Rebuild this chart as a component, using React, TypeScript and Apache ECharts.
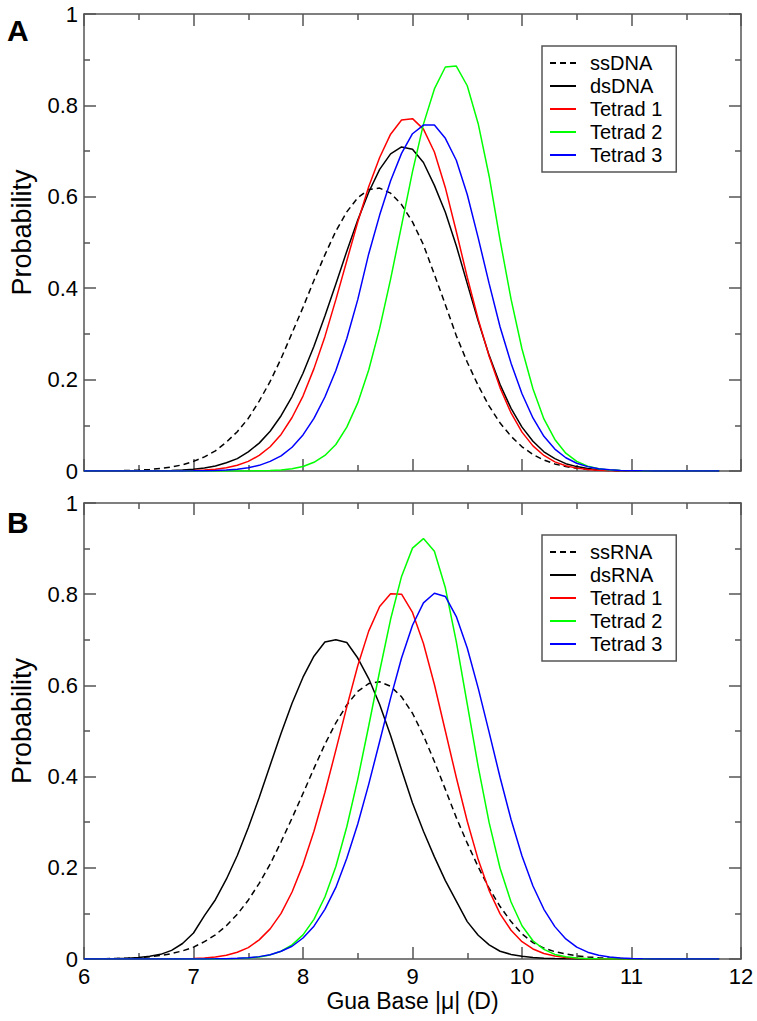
import React, { useEffect, useRef } from "react";
import * as echarts from "echarts";

// sample positions (Gua base |mu|, D)
const xs = [6.0, 6.1, 6.2, 6.3, 6.4, 6.5, 6.6, 6.7, 6.8, 6.9, 7.0, 7.1, 7.2, 7.3, 7.4, 7.5, 7.6, 7.7, 7.8, 7.9,
  8.0, 8.1, 8.2, 8.3, 8.4, 8.5, 8.6, 8.7, 8.8, 8.9, 9.0, 9.1, 9.2, 9.3, 9.4, 9.5, 9.6, 9.7, 9.8, 9.9,
  10.0, 10.1, 10.2, 10.3, 10.4, 10.5, 10.6, 10.7, 10.8, 10.9, 11.0, 11.1, 11.2, 11.3, 11.4, 11.5, 11.6, 11.7, 11.8];

// Panel A
const ssDNA = [0.0001, 0.0002, 0.0004, 0.0007, 0.0011, 0.002, 0.0033, 0.0054, 0.0087, 0.0136, 0.021, 0.031, 0.044, 0.063, 0.086, 0.115, 0.153, 0.196, 0.246, 0.302,
  0.358, 0.417, 0.473, 0.525, 0.567, 0.598, 0.616, 0.619, 0.608, 0.583, 0.545, 0.495, 0.430, 0.364, 0.296, 0.238, 0.187, 0.142, 0.105, 0.076,
  0.053, 0.036, 0.024, 0.0155, 0.0097, 0.006, 0.0035, 0.002, 0.0011, 0.0006, 0.0003, 0.0001, 0, 0, 0, 0, 0, 0, 0];
const dsDNA = [0, 0, 0, 0.0001, 0.0001, 0.0002, 0.0004, 0.0007, 0.0013, 0.0023, 0.004, 0.0068, 0.011, 0.018, 0.027, 0.042, 0.061, 0.087, 0.121, 0.163,
  0.214, 0.273, 0.339, 0.409, 0.481, 0.549, 0.610, 0.660, 0.694, 0.709, 0.704, 0.675, 0.625, 0.566, 0.493, 0.410, 0.328, 0.253, 0.189, 0.137,
  0.096, 0.065, 0.042, 0.027, 0.016, 0.0096, 0.0055, 0.003, 0.0016, 0.0008, 0.0004, 0.0002, 0.0001, 0, 0, 0, 0, 0, 0];
const tetrad1A = [0, 0, 0, 0, 0, 0, 0.0001, 0.0001, 0.0003, 0.0006, 0.0011, 0.0022, 0.004, 0.0073, 0.0126, 0.021, 0.034, 0.053, 0.080, 0.117,
  0.164, 0.224, 0.294, 0.375, 0.460, 0.545, 0.622, 0.686, 0.737, 0.768, 0.771, 0.748, 0.698, 0.620, 0.524, 0.424, 0.332, 0.251, 0.182, 0.127,
  0.085, 0.055, 0.034, 0.020, 0.0115, 0.0063, 0.0033, 0.0017, 0.0008, 0.0004, 0.0002, 0, 0, 0, 0, 0, 0, 0, 0];
const tetrad2A = [0, 0, 0, 0, 0, 0, 0, 0, 0, 0, 0, 0, 0, 0, 0, 0.0002, 0.0005, 0.0011, 0.0024, 0.005,
  0.0098, 0.019, 0.034, 0.058, 0.096, 0.149, 0.221, 0.312, 0.420, 0.537, 0.655, 0.759, 0.836, 0.884, 0.886, 0.843, 0.760, 0.645, 0.505, 0.376,
  0.267, 0.180, 0.114, 0.069, 0.039, 0.021, 0.0105, 0.005, 0.0023, 0.001, 0.0004, 0.0002, 0, 0, 0, 0, 0, 0, 0];
const tetrad3A = [0, 0, 0, 0, 0, 0, 0, 0, 0, 0.0001, 0.0003, 0.0006, 0.0011, 0.0021, 0.004, 0.0071, 0.0124, 0.021, 0.033, 0.052,
  0.079, 0.115, 0.162, 0.220, 0.290, 0.375, 0.475, 0.560, 0.635, 0.695, 0.738, 0.757, 0.757, 0.728, 0.680, 0.605, 0.510, 0.410, 0.315, 0.236,
  0.169, 0.116, 0.076, 0.048, 0.029, 0.017, 0.0096, 0.0051, 0.0026, 0.0013, 0.0006, 0.0003, 0.0001, 0, 0, 0, 0, 0, 0];

// Panel B
const ssRNA = [0.0002, 0.0004, 0.0007, 0.0011, 0.0019, 0.003, 0.0049, 0.0077, 0.0119, 0.0178, 0.026, 0.038, 0.053, 0.073, 0.098, 0.129, 0.166, 0.208, 0.257, 0.309,
  0.363, 0.418, 0.471, 0.518, 0.557, 0.587, 0.604, 0.608, 0.598, 0.575, 0.539, 0.490, 0.433, 0.372, 0.310, 0.254, 0.202, 0.155, 0.115, 0.082,
  0.055, 0.036, 0.024, 0.016, 0.011, 0.007, 0.0045, 0.0028, 0.0017, 0.001, 0.0005, 0.0003, 0.0001, 0, 0, 0, 0, 0, 0];
const dsRNA = [0.0001, 0.0002, 0.0004, 0.0009, 0.0018, 0.0033, 0.0059, 0.0102, 0.019, 0.034, 0.057, 0.095, 0.130, 0.175, 0.227, 0.288, 0.354, 0.425, 0.495, 0.561,
  0.618, 0.664, 0.695, 0.700, 0.694, 0.660, 0.615, 0.558, 0.490, 0.415, 0.342, 0.280, 0.224, 0.172, 0.127, 0.082, 0.052, 0.031, 0.017, 0.010,
  0.006, 0.0033, 0.0018, 0.0009, 0.0004, 0.0002, 0, 0, 0, 0, 0, 0, 0, 0, 0, 0, 0, 0, 0];
const tetrad1B = [0, 0, 0, 0, 0, 0, 0.0001, 0.0001, 0.0003, 0.0006, 0.0012, 0.0024, 0.0046, 0.0084, 0.0149, 0.025, 0.042, 0.066, 0.100, 0.147,
  0.207, 0.280, 0.365, 0.458, 0.553, 0.643, 0.719, 0.773, 0.801, 0.800, 0.760, 0.692, 0.602, 0.500, 0.398, 0.302, 0.218, 0.150, 0.099, 0.063,
  0.038, 0.022, 0.012, 0.0065, 0.0032, 0.0016, 0.0007, 0.0003, 0.0001, 0, 0, 0, 0, 0, 0, 0, 0, 0, 0];
const tetrad2B = [0, 0, 0, 0, 0, 0, 0, 0, 0, 0, 0, 0, 0.0002, 0.0004, 0.001, 0.0022, 0.0045, 0.009, 0.017, 0.031,
  0.053, 0.087, 0.136, 0.203, 0.290, 0.394, 0.511, 0.631, 0.745, 0.839, 0.901, 0.922, 0.894, 0.814, 0.696, 0.559, 0.422, 0.299, 0.199, 0.125,
  0.073, 0.040, 0.021, 0.010, 0.0047, 0.002, 0.0008, 0.0003, 0.0001, 0, 0, 0, 0, 0, 0, 0, 0, 0, 0];
const tetrad3B = [0, 0, 0, 0, 0, 0, 0, 0, 0, 0, 0.0001, 0.0001, 0.0003, 0.0007, 0.0014, 0.0027, 0.0052, 0.0094, 0.017, 0.028,
  0.046, 0.072, 0.109, 0.157, 0.221, 0.296, 0.383, 0.477, 0.572, 0.660, 0.732, 0.781, 0.802, 0.795, 0.751, 0.682, 0.594, 0.497, 0.398, 0.306,
  0.226, 0.160, 0.109, 0.071, 0.044, 0.026, 0.015, 0.0084, 0.0044, 0.0022, 0.0011, 0.0005, 0.0002, 0.0001, 0, 0, 0, 0, 0];

const legendA = ["ssDNA", "dsDNA", "Tetrad 1", "Tetrad 2", "Tetrad 3"];
const legendB = ["ssRNA", "dsRNA", "Tetrad 1", "Tetrad 2", "Tetrad 3"];
const xTicks = [6, 7, 8, 9, 10, 11, 12];
const panelLabels = ["A", "B"];

const FONT = "Liberation Sans";
const FRAME = "#555555";

function line(name: string, vals: number[], color: string, dashed: boolean, idx: number) {
  return {
    type: "line",
    name,
    xAxisIndex: idx,
    yAxisIndex: idx,
    data: xs.map((x, i) => [x, vals[i]]),
    symbol: "none",
    showSymbol: false,
    smooth: false,
    lineStyle: { color, width: 1.5, type: dashed ? [6, 4] : "solid" },
    itemStyle: { color },
  };
}

function xAxisPair(grid: number, labels: boolean) {
  const common = {
    gridIndex: grid,
    type: "value",
    min: xTicks[0],
    max: xTicks[xTicks.length - 1],
    interval: 1,
    splitLine: { show: false },
    axisLine: { show: true, onZero: false, lineStyle: { color: FRAME, width: 1.5 } },
    axisTick: { show: true, inside: true, length: 12, lineStyle: { color: FRAME, width: 1.5 } },
    minorTick: { show: true, splitNumber: 2, length: 6, lineStyle: { color: FRAME, width: 1.5 } },
  };
  return [
    {
      ...common,
      position: "bottom",
      axisLabel: {
        show: labels,
        fontSize: 22,
        fontFamily: FONT,
        color: "#000",
        margin: 6,
        showMinLabel: true,
        showMaxLabel: true,
      },
      name: labels ? "Gua Base |\u03bc| (D)" : "",
      nameLocation: "middle",
      nameGap: 30,
      nameTextStyle: { fontSize: 23, fontFamily: FONT, color: "#000" },
    },
    { ...common, position: "top", axisLabel: { show: false } },
  ];
}

function yAxisPair(grid: number) {
  const common = {
    gridIndex: grid,
    type: "value",
    min: 0,
    max: 1,
    interval: 0.2,
    splitLine: { show: false },
    axisLine: { show: true, onZero: false, lineStyle: { color: FRAME, width: 1.5 } },
    axisTick: { show: true, inside: true, length: 12, lineStyle: { color: FRAME, width: 1.5 } },
    minorTick: { show: true, splitNumber: 2, length: 6, lineStyle: { color: FRAME, width: 1.5 } },
  };
  return [
    {
      ...common,
      position: "left",
      axisLabel: {
        show: true,
        fontSize: 22,
        fontFamily: FONT,
        color: "#000",
        margin: 6,
        showMinLabel: true,
        showMaxLabel: true,
      },
      name: "Probability",
      nameLocation: "middle",
      nameRotate: 90,
      nameGap: 49,
      nameTextStyle: { fontSize: 27, fontFamily: FONT, color: "#000", padding: [0, 0, 0, 20] },
    },
    { ...common, position: "right", axisLabel: { show: false } },
  ];
}

function legend(data: string[], top: number) {
  return {
    data,
    orient: "vertical",
    left: 542,
    top,
    padding: [7, 14, 7, 7],
    itemWidth: 26,
    itemHeight: 14,
    itemGap: 3,
    borderColor: FRAME,
    borderWidth: 1.5,
    backgroundColor: "#fff",
    selectedMode: false,
    itemStyle: { opacity: 0 },
    textStyle: { fontSize: 20, fontFamily: FONT, color: "#000", padding: [0, 0, 0, 9] },
  };
}

export default function App() {
  const ref = useRef<HTMLDivElement>(null);
  useEffect(() => {
    if (!ref.current) return;
    const chart = echarts.init(ref.current, undefined, { renderer: "svg" });
    chart.setOption({
      animation: false,
      backgroundColor: "#fff",
      grid: [
        { left: 84, top: 14, width: 657, height: 457 },
        { left: 84, top: 503, width: 657, height: 456 },
      ],
      xAxis: [...xAxisPair(0, false), ...xAxisPair(1, true)],
      yAxis: [...yAxisPair(0), ...yAxisPair(1)],
      legend: [legend(legendA, 46), legend(legendB, 535)],
      graphic: [
        { type: "text", x: 7, y: 30, style: { text: panelLabels[0], font: `bold 30px "${FONT}"`, fill: "#000", verticalAlign: "middle" } },
        { type: "text", x: 7, y: 522, style: { text: panelLabels[1], font: `bold 30px "${FONT}"`, fill: "#000", verticalAlign: "middle" } },
      ],
      series: [
        line("ssDNA", ssDNA, "#000000", true, 0),
        line("dsDNA", dsDNA, "#000000", false, 0),
        line("Tetrad 1", tetrad1A, "#ff0000", false, 0),
        line("Tetrad 2", tetrad2A, "#00ff00", false, 0),
        line("Tetrad 3", tetrad3A, "#0000ff", false, 0),
        line("ssRNA", ssRNA, "#000000", true, 2),
        line("dsRNA", dsRNA, "#000000", false, 2),
        line("Tetrad 1", tetrad1B, "#ff0000", false, 2),
        line("Tetrad 2", tetrad2B, "#00ff00", false, 2),
        line("Tetrad 3", tetrad3B, "#0000ff", false, 2),
      ],
    });
    return () => chart.dispose();
  }, []);
  return <div ref={ref} style={{ position: "absolute", left: 0, top: 0, width: 757, height: 1021 }} />;
}
